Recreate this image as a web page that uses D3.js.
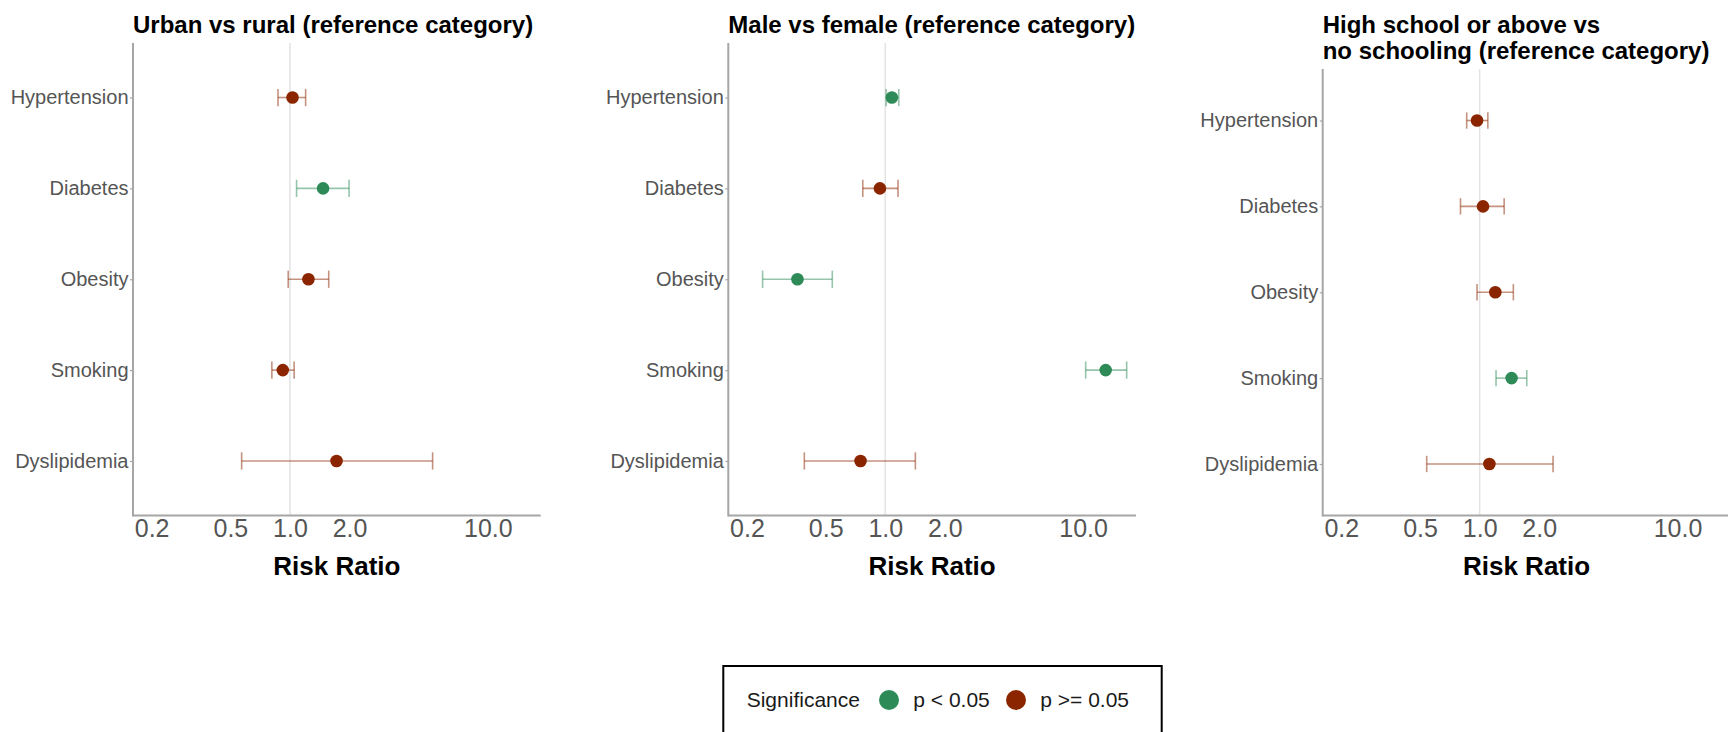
<!DOCTYPE html>
<html>
<head>
<meta charset="utf-8">
<script src="https://cdn.jsdelivr.net/npm/d3@7"></script>
<style>
  body { margin: 0; background: #fff; }
  svg { display: block; font-family: "Liberation Sans", Arial, sans-serif; }
</style>
</head>
<body>
<div id="chart"></div>
<script>
const categories = ['Hypertension', 'Diabetes', 'Obesity', 'Smoking', 'Dyslipidemia'];
const xTicks = [0.2, 0.5, 1.0, 2.0, 10.0];

// Urban vs rural
const urbanRR = [1.03, 1.47, 1.24, 0.92, 1.72];
const urbanLow = [0.87, 1.08, 0.98, 0.81, 0.57];
const urbanHigh = [1.20, 1.99, 1.57, 1.05, 5.26];
const urbanSig = [false, true, false, false, false];

// Male vs female
const maleRR = [1.08, 0.94, 0.36, 13.0, 0.75];
const maleLow = [1.01, 0.77, 0.24, 10.3, 0.39];
const maleHigh = [1.17, 1.16, 0.54, 16.6, 1.42];
const maleSig = [true, false, true, true, false];

// High school or above vs no schooling
const schoolRR = [0.97, 1.04, 1.20, 1.45, 1.12];
const schoolLow = [0.86, 0.80, 0.97, 1.21, 0.54];
const schoolHigh = [1.10, 1.33, 1.48, 1.73, 2.35];
const schoolSig = [false, false, false, true, false];

const titles = [
  ['Urban vs rural (reference category)'],
  ['Male vs female (reference category)'],
  ['High school or above vs', 'no schooling (reference category)']
];

const sigColor = '#2E8B57';
const nsColor = '#8B2500';
const font = '"Liberation Sans", Arial, sans-serif';

const width = 1728, height = 732;

const svg = d3.select('#chart')
  .append('svg')
  .attr('width', width)
  .attr('height', height);

const panels = [
  { left: 133, top: 43, rr: urbanRR, lo: urbanLow, hi: urbanHigh, sig: urbanSig, title: titles[0] },
  { left: 728.3, top: 43, rr: maleRR, lo: maleLow, hi: maleHigh, sig: maleSig, title: titles[1] },
  { left: 1322.7, top: 69, rr: schoolRR, lo: schoolLow, hi: schoolHigh, sig: schoolSig, title: titles[2] }
];

const panelWidth = 407.7;
const bottom = 515.5;

panels.forEach((p) => {
  const data = categories.map((c, i) => ({
    cat: c, rr: p.rr[i], lo: p.lo[i], hi: p.hi[i], sig: p.sig[i]
  }));

  const g = svg.append('g')
    .attr('transform', 'translate(' + p.left + ',0)');

  // Set scale of x-ax (log)
  const xScale = d3.scaleLog()
    .domain([0.161, 18.5])
    .range([0, panelWidth]);

  // Set scale of y-ax
  const yScale = d3.scalePoint()
    .domain(categories)
    .range([p.top, bottom])
    .padding(0.6);

  const step = yScale.step();

  // Reference line at 1
  g.append('line')
    .attr('x1', xScale(1)).attr('x2', xScale(1))
    .attr('y1', p.top).attr('y2', bottom)
    .attr('stroke', '#e3e3e3')
    .attr('stroke-width', 1.5);

  // Error bars
  const bars = g.selectAll('.errbar')
    .data(data)
    .enter()
    .append('g')
    .attr('class', 'errbar')
    .attr('stroke', (d) => d.sig ? sigColor : nsColor)
    .attr('stroke-opacity', 0.5)
    .attr('stroke-width', 1.6);

  bars.append('line')
    .attr('x1', (d) => xScale(d.lo))
    .attr('x2', (d) => xScale(d.hi))
    .attr('y1', (d) => yScale(d.cat))
    .attr('y2', (d) => yScale(d.cat));

  bars.append('line')
    .attr('x1', (d) => xScale(d.lo))
    .attr('x2', (d) => xScale(d.lo))
    .attr('y1', (d) => yScale(d.cat) - step * 0.095)
    .attr('y2', (d) => yScale(d.cat) + step * 0.095);

  bars.append('line')
    .attr('x1', (d) => xScale(d.hi))
    .attr('x2', (d) => xScale(d.hi))
    .attr('y1', (d) => yScale(d.cat) - step * 0.095)
    .attr('y2', (d) => yScale(d.cat) + step * 0.095);

  // Points
  g.selectAll('.pt')
    .data(data)
    .enter()
    .append('circle')
    .attr('class', 'pt')
    .attr('cx', (d) => xScale(d.rr))
    .attr('cy', (d) => yScale(d.cat))
    .attr('r', 6.3)
    .attr('fill', (d) => d.sig ? sigColor : nsColor);

  // Show y-ax
  const yAxis = g.append('g')
    .call(d3.axisLeft(yScale).tickSize(3).tickPadding(1.5));
  yAxis.select('.domain').remove();
  yAxis.selectAll('.tick line').attr('stroke', '#a6a6a6').attr('stroke-width', 1.2);
  yAxis.selectAll('.tick text')
    .attr('fill', '#555')
    .style('font-family', font)
    .style('font-size', '20px');

  // Show x-ax
  const xAxis = g.append('g')
    .attr('transform', 'translate(0,' + bottom + ')')
    .call(d3.axisBottom(xScale).tickValues(xTicks).tickFormat(d3.format('.1f')).tickSize(0).tickPadding(4));
  xAxis.select('.domain').remove();
  xAxis.selectAll('.tick text')
    .attr('fill', '#555')
    .attr('dy', '0.71em')
    .style('font-family', font)
    .style('font-size', '25px');

  // Axis lines
  g.append('line')
    .attr('x1', 0).attr('x2', 0)
    .attr('y1', p.top).attr('y2', bottom + 1)
    .attr('stroke', '#a6a6a6').attr('stroke-width', 2);
  g.append('line')
    .attr('x1', 0).attr('x2', panelWidth)
    .attr('y1', bottom).attr('y2', bottom)
    .attr('stroke', '#a6a6a6').attr('stroke-width', 2);

  // Axis title
  g.append('text')
    .attr('x', panelWidth / 2)
    .attr('y', 575)
    .attr('text-anchor', 'middle')
    .style('font-family', font)
    .style('font-size', '26px')
    .style('font-weight', 'bold')
    .attr('fill', '#000')
    .text('Risk Ratio');

  // Panel title
  g.append('text')
    .style('font-family', font)
    .style('font-size', '24px')
    .style('font-weight', 'bold')
    .attr('fill', '#000')
    .selectAll('tspan')
    .data(p.title)
    .enter()
    .append('tspan')
    .attr('x', 0)
    .attr('y', (d, i) => 32.7 + i * 25.8)
    .text((d) => d);
});

// Legend
const legendItems = [
  { label: 'p < 0.05', color: sigColor },
  { label: 'p >= 0.05', color: nsColor }
];

const legend = svg.append('g').attr('transform', 'translate(723.3,666)');

legend.append('rect')
  .attr('x', 0).attr('y', 0)
  .attr('width', 438.4).attr('height', 90)
  .attr('fill', '#fff')
  .attr('stroke', '#000')
  .attr('stroke-width', 2);

legend.append('text')
  .attr('x', 23.4).attr('y', 41)
  .style('font-family', font)
  .style('font-size', '21px')
  .attr('fill', '#1a1a1a')
  .text('Significance');

const itemX = [165.7, 292.7];
legend.selectAll('.item')
  .data(legendItems)
  .enter()
  .append('g')
  .attr('class', 'item')
  .attr('transform', (d, i) => 'translate(' + itemX[i] + ',34)')
  .each(function(d) {
    const item = d3.select(this);
    item.append('circle').attr('r', 10).attr('fill', d.color);
    item.append('text')
      .attr('x', 24.3).attr('y', 7)
      .style('font-family', font)
      .style('font-size', '21px')
      .attr('fill', '#1a1a1a')
      .text(d.label);
  });
</script>
</body>
</html>
